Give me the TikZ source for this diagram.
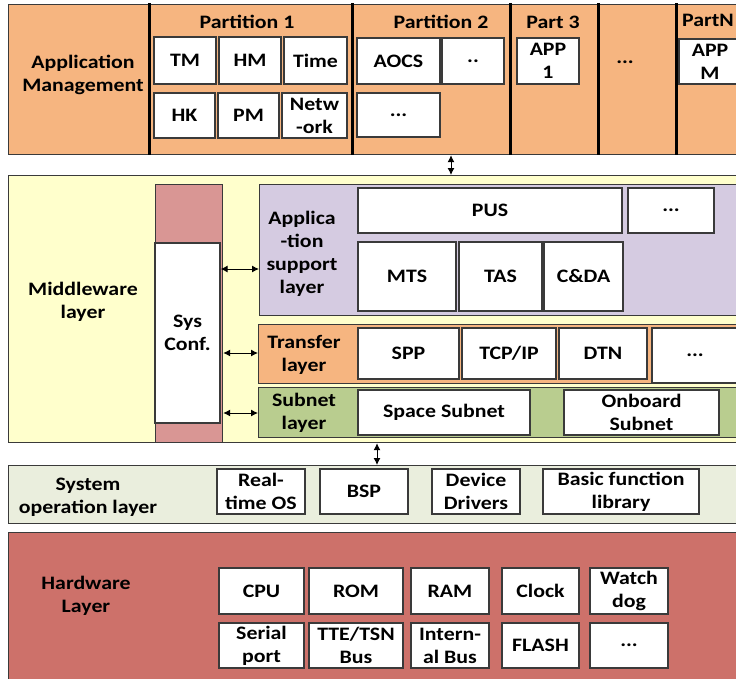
\documentclass[tikz,border=0pt]{standalone}
\usepackage{fontspec}
\newfontfamily\lab{Carlito}[FakeStretch=1.15]
\usetikzlibrary{arrows.meta}
\definecolor{orangeL}{HTML}{F6B580}
\definecolor{yellowL}{HTML}{FFFFCC}
\definecolor{purpleL}{HTML}{D5CBE1}
\definecolor{greenL}{HTML}{B9CD8F}
\definecolor{pinkL}{HTML}{D99694}
\definecolor{sysL}{HTML}{EAEEDD}
\definecolor{hwL}{HTML}{CD716A}
\definecolor{lineC}{HTML}{3A3A3A}
\begin{document}
\begin{tikzpicture}[x=1pt,y=-1pt,
  every node/.style={font=\lab\bfseries\fontsize{19}{23}\selectfont, text=black},
  layer/.style={draw=lineC, line width=1.2pt, inner sep=0pt, anchor=north west},
  bx/.style 2 args={draw=lineC, line width=1.2pt, fill=white, inner sep=0pt, align=center, minimum width=#1, minimum height=#2},
  lbl/.style={align=center, inner sep=0pt},
  partline/.style={line width=3pt, black},
  biarrow/.style={{Latex[length=7pt,width=7pt]}-{Latex[length=7pt,width=7pt]}, line width=1pt}]
\clip (0,0) rectangle (736,678);
\fill[white] (0,0) rectangle (736,678);
% ---------- Application layer ----------
\node[layer, fill=orangeL, minimum width=745, minimum height=150] (app) at (8,4) {};
\foreach \x in {149,352,510,598,676} \draw[partline] (\x,3) -- (\x,155);
\node[lbl] (applbl) at (83,75) {Application\\Management};
\node[lbl] (p1) at (247,22) {Partition 1};
\node[lbl] (p2) at (441,22) {Partition 2};
\node[lbl] (p3) at (553,22) {Part 3};
\node[lbl] (pdots) at (625,62) {...};
\node[lbl] (pn) at (708,20) {PartN};
\node[bx={62}{47}] (tm) at (185,60.5) {TM};
\node[bx={62}{47}] (hm) at (250,60.5) {HM};
\node[bx={63}{47}] (time) at (315.5,60.5) {Time};
\node[bx={61}{45}] (hk) at (184.5,115.5) {HK};
\node[bx={61}{45}] (pm) at (248.5,115.5) {PM};
\node[bx={65}{45}] (net) at (314.5,115.5) {Netw\\-ork};
\node[bx={83}{46}] (aocs) at (398.5,61) {AOCS};
\node[bx={62}{46}] (p2dd) at (473,61) {..};
\node[bx={83}{44}] (p2ddd) at (398.5,115) {...};
\node[bx={62}{46}] (app1) at (548,61) {APP\\1};
\node[bx={62}{45}] (appm) at (710,61.5) {APP\\M};
% ---------- Middleware layer ----------
\node[layer, fill=yellowL, minimum width=745, minimum height=267] (mw) at (8,175) {};
\node[lbl] (mwlbl) at (83,302) {Middleware\\layer};
\node[layer, fill=pinkL, minimum width=67, minimum height=258] (syscol) at (155,184) {};
\node[bx={65}{180}] (sysconf) at (187.5,333) {Sys\\Conf.};
\node[layer, fill=purpleL, minimum width=486, minimum height=131] (asl) at (259,184) {};
\node[lbl] (asllbl) at (302,253.5) {Applica\\-tion\\support\\layer};
\node[bx={264}{45}] (pus) at (490,210.5) {PUS};
\node[bx={86}{45}] (asldots) at (671,210.5) {...};
\node[bx={98}{69}] (mts) at (407,276.5) {MTS};
\node[bx={83}{69}] (tas) at (500.5,276.5) {TAS};
\node[bx={79}{69}] (cda) at (583.5,276.5) {C\&DA};
\node[layer, fill=orangeL, minimum width=487, minimum height=59] (tl) at (258,324) {};
\node[lbl] (tllbl) at (304,355) {Transfer\\layer};
\node[bx={101}{51}] (spp) at (408.5,353.5) {SPP};
\node[bx={94}{51}] (tcp) at (509,353.5) {TCP/IP};
\node[bx={88}{51}] (dtn) at (603,353.5) {DTN};
\node[bx={86}{55}] (tldots) at (695,355.5) {...};
\node[layer, fill=greenL, minimum width=487, minimum height=50] (sl) at (258,387) {};
\node[lbl] (sllbl) at (304,412.5) {Subnet\\layer};
\node[bx={172}{45}] (space) at (444,412.5) {Space Subnet};
\node[bx={155}{45}] (onboard) at (641.5,412.5) {Onboard\\Subnet};
\draw[biarrow] (sysconf.east |- 0,269) -- (asl.west |- 0,269);
\draw[biarrow] (syscol.east |- 0,353) -- (tl.west |- 0,353);
\draw[biarrow] (syscol.east |- 0,413) -- (sl.west |- 0,413);
\draw[biarrow] (app.south -| 451,0) -- (mw.north -| 451,0);
% ---------- System operation layer ----------
\node[layer, fill=sysL, minimum width=745, minimum height=58] (sys) at (8,465) {};
\draw[biarrow] (mw.south -| 377,0) -- (sys.north -| 377,0);
\node[lbl] (syslbl) at (88,497) {System\\operation layer};
\node[bx={88}{45}] (rtos) at (261,491.5) {Real-\\time OS};
\node[bx={88}{45}] (bsp) at (364,491.5) {BSP};
\node[bx={88}{45}] (dd) at (476,491.5) {Device\\Drivers};
\node[bx={156}{45}] (bfl) at (621,491.5) {Basic function\\library};
% ---------- Hardware layer ----------
\node[layer, fill=hwL, minimum width=745, minimum height=160] (hw) at (8,532) {};
\node[lbl] (hwlbl) at (86,596) {Hardware\\Layer};
\node[bx={85}{46}] (cpu) at (261.5,591) {CPU};
\node[bx={94}{46}] (rom) at (356,591) {ROM};
\node[bx={78}{46}] (ram) at (450,591) {RAM};
\node[bx={77}{46}] (clock) at (540.5,591) {Clock};
\node[bx={78}{46}] (wd) at (629,591) {Watch\\dog};
\node[bx={85}{45}] (serial) at (261.5,645.5) {Serial\\port};
\node[bx={94}{45}] (tte) at (356,645.5) {TTE/TSN\\Bus};
\node[bx={78}{45}] (ibus) at (450,645.5) {Intern-\\al Bus};
\node[bx={77}{45}] (flash) at (540.5,645.5) {FLASH};
\node[bx={78}{45}] (hwdots) at (629,645.5) {...};
\end{tikzpicture}
\end{document}
